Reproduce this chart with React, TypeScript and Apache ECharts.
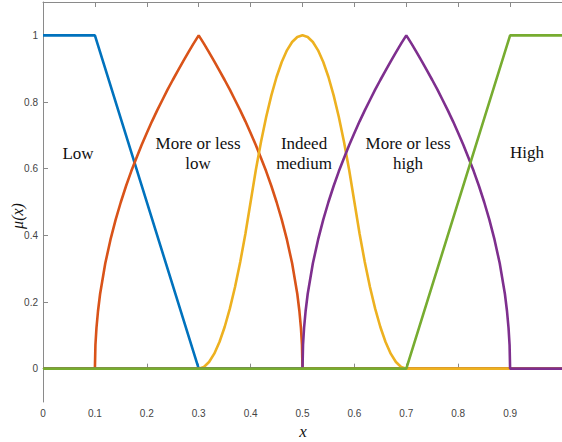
import React, { useEffect, useRef } from "react";
import * as echarts from "echarts";

const lowPts: [number, number][] = [[0, 1], [0.1, 1], [0.3, 0], [1, 0]];
const moreLessLowPts: [number, number][] = [
  [0, 0], [0.1, 0], [0.101, 0.071], [0.103, 0.122], [0.106, 0.173], [0.11, 0.224], [0.12, 0.316],
  [0.13, 0.387], [0.14, 0.447], [0.15, 0.5], [0.16, 0.548], [0.17, 0.592], [0.18, 0.632], [0.19, 0.671],
  [0.2, 0.707], [0.21, 0.742], [0.22, 0.775], [0.23, 0.806], [0.24, 0.837], [0.25, 0.866], [0.26, 0.894],
  [0.27, 0.922], [0.28, 0.949], [0.29, 0.975], [0.3, 1],
  [0.31, 0.975], [0.32, 0.949], [0.33, 0.922], [0.34, 0.894], [0.35, 0.866], [0.36, 0.837], [0.37, 0.806],
  [0.38, 0.775], [0.39, 0.742], [0.4, 0.707], [0.41, 0.671], [0.42, 0.632], [0.43, 0.592], [0.44, 0.548],
  [0.45, 0.5], [0.46, 0.447], [0.47, 0.387], [0.48, 0.316], [0.49, 0.224], [0.494, 0.173], [0.497, 0.122],
  [0.499, 0.071], [0.5, 0], [1, 0],
];
const indeedMediumPts: [number, number][] = [
  [0, 0], [0.3, 0], [0.31, 0.005], [0.32, 0.02], [0.33, 0.045], [0.34, 0.08], [0.35, 0.125], [0.36, 0.18],
  [0.37, 0.245], [0.38, 0.32], [0.39, 0.405], [0.4, 0.5], [0.41, 0.595], [0.42, 0.68], [0.43, 0.755],
  [0.44, 0.82], [0.45, 0.875], [0.46, 0.92], [0.47, 0.955], [0.48, 0.98], [0.49, 0.995], [0.5, 1],
  [0.51, 0.995], [0.52, 0.98], [0.53, 0.955], [0.54, 0.92], [0.55, 0.875], [0.56, 0.82], [0.57, 0.755],
  [0.58, 0.68], [0.59, 0.595], [0.6, 0.5], [0.61, 0.405], [0.62, 0.32], [0.63, 0.245], [0.64, 0.18],
  [0.65, 0.125], [0.66, 0.08], [0.67, 0.045], [0.68, 0.02], [0.69, 0.005], [0.7, 0], [1, 0],
];
const moreLessHighPts: [number, number][] = [
  [0, 0], [0.5, 0], [0.501, 0.071], [0.503, 0.122], [0.506, 0.173], [0.51, 0.224], [0.52, 0.316],
  [0.53, 0.387], [0.54, 0.447], [0.55, 0.5], [0.56, 0.548], [0.57, 0.592], [0.58, 0.632], [0.59, 0.671],
  [0.6, 0.707], [0.61, 0.742], [0.62, 0.775], [0.63, 0.806], [0.64, 0.837], [0.65, 0.866], [0.66, 0.894],
  [0.67, 0.922], [0.68, 0.949], [0.69, 0.975], [0.7, 1],
  [0.71, 0.975], [0.72, 0.949], [0.73, 0.922], [0.74, 0.894], [0.75, 0.866], [0.76, 0.837], [0.77, 0.806],
  [0.78, 0.775], [0.79, 0.742], [0.8, 0.707], [0.81, 0.671], [0.82, 0.632], [0.83, 0.592], [0.84, 0.548],
  [0.85, 0.5], [0.86, 0.447], [0.87, 0.387], [0.88, 0.316], [0.89, 0.224], [0.894, 0.173], [0.897, 0.122],
  [0.899, 0.071], [0.9, 0], [1, 0],
];
const highPts: [number, number][] = [[0, 0], [0.7, 0], [0.9, 1], [1, 1]];

const seriesNames = ["Low", "More or less low", "Indeed medium", "More or less high", "High"];
const seriesColors = ["#0072BD", "#D95319", "#EDB120", "#7E2F8E", "#77AC30"];
const yTicks = [0, 0.2, 0.4, 0.6, 0.8, 1];

export default function App() {
  const ref = useRef<HTMLDivElement>(null);
  useEffect(() => {
    if (!ref.current) return;
    const chart = echarts.init(ref.current, undefined, { renderer: "svg" });
    const allData = [lowPts, moreLessLowPts, indeedMediumPts, moreLessHighPts, highPts];
    const axisLine = { show: true, lineStyle: { color: "#8a8a8a", width: 1 } };
    const labelStyle = { color: "#444", fontSize: 10, fontFamily: "Liberation Sans, Arial, sans-serif" };
    const serif = "Liberation Serif, Times New Roman, serif";
    const textStyle = { fill: "#111", fontSize: 17, fontFamily: serif, align: "center", verticalAlign: "middle", lineHeight: 20 };
    chart.setOption({
      animation: false,
      backgroundColor: "#fff",
      grid: { left: 43, top: 2, width: 521, height: 400, containLabel: false },
      xAxis: [
        {
          type: "value", min: 0, max: 1, interval: 0.1, position: "bottom",
          axisLine, splitLine: { show: false },
          axisTick: { show: true, inside: true, length: 5, lineStyle: { color: "#8a8a8a" } },
          axisLabel: { ...labelStyle, margin: 6, showMaxLabel: false },
        },
        {
          type: "value", min: 0, max: 1, interval: 0.1, position: "top",
          axisLine, splitLine: { show: false },
          axisTick: { show: true, inside: true, length: 5, lineStyle: { color: "#8a8a8a" } },
          axisLabel: { show: false },
        },
      ],
      yAxis: {
        type: "value", min: -0.1, max: 1.1,
        axisLine, splitLine: { show: false },
        axisTick: { show: true, inside: true, length: 5, customValues: yTicks, lineStyle: { color: "#8a8a8a" } },
        axisLabel: { ...labelStyle, margin: 5, customValues: yTicks },
      },
      series: allData.map((d, i) => ({
        name: seriesNames[i],
        type: "line",
        data: d,
        showSymbol: false,
        symbol: "none",
        lineStyle: { color: seriesColors[i], width: 2.6 },
        itemStyle: { color: seriesColors[i] },
        z: 2 + i,
        clip: true,
      })),
      graphic: [
        { type: "text", x: 78, y: 153, style: { ...textStyle, text: "Low" } },
        { type: "text", x: 198, y: 153, style: { ...textStyle, text: "More or less\nlow" } },
        { type: "text", x: 304, y: 153, style: { ...textStyle, text: "Indeed\nmedium" } },
        { type: "text", x: 408, y: 153, style: { ...textStyle, text: "More or less\nhigh" } },
        { type: "text", x: 527, y: 152, style: { ...textStyle, text: "High" } },
        {
          type: "text", x: 17, y: 216, rotation: Math.PI / 2,
          style: { ...textStyle, text: "μ(x)", fontStyle: "italic", fontSize: 16 },
        },
        { type: "text", x: 303, y: 431, style: { ...textStyle, text: "x", fontStyle: "italic", fontSize: 17 } },
      ],
    });
    return () => chart.dispose();
  }, []);
  return (
    <div
      ref={ref}
      style={{ position: "fixed", left: 0, top: 0, width: 562, height: 442, background: "#fff" }}
    />
  );
}
